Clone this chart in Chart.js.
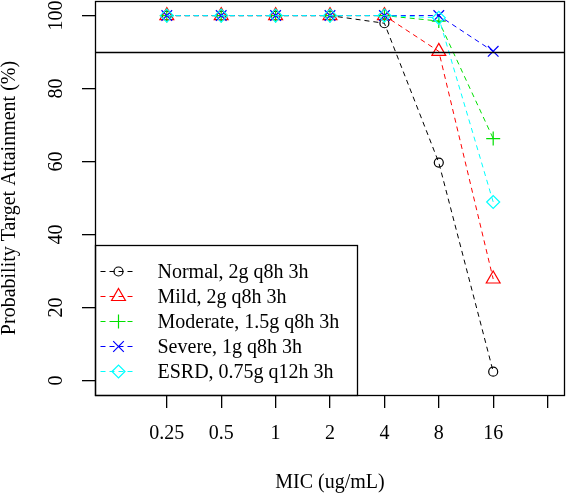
<!DOCTYPE html>
<html>
<head>
<meta charset="utf-8">
<script src="https://cdn.jsdelivr.net/npm/chart.js@4.4.0/dist/chart.umd.min.js"></script>
<style>
  html, body { margin: 0; padding: 0; background: #fff; }
</style>
</head>
<body>
<canvas id="myChart" width="566" height="496"></canvas>
<script>
// MIC categories (last tick is left blank, as in the R plot)
const micLabels = ['0.25', '0.5', '1', '2', '4', '8', '16', ''];
const yTicks = [0, 20, 40, 60, 80, 100];
const target = 90;

const seriesNames = ['Normal, 2g q8h 3h', 'Mild, 2g q8h 3h', 'Moderate, 1.5g q8h 3h', 'Severe, 1g q8h 3h', 'ESRD, 0.75g q12h 3h'];
const normal   = [100, 100, 100, 100, 97.9, 59.7, 2.4];
const mild     = [100, 100, 100, 100, 100, 90.2, 27.8];
const moderate = [100, 100, 100, 100, 100, 98.5, 66.3];
const severe   = [100, 100, 100, 100, 100, 100, 90.2];
const esrd     = [100, 100, 100, 100, 100, 99.4, 48.9];

const colors = ['#000000', '#ff0000', '#00e000', '#0000ff', '#00ffff'];
const styles = ['circle', 'triangle', 'cross', 'crossRot', 'rectRot'];
const radii  = [4.5, 8, 7, 7.5, 6.5];
const values = [normal, mild, moderate, severe, esrd];

const FONT = 'Liberation Serif';

const toPoints = arr => arr.map((v, i) => ({x: i + 1, y: v}));

const datasets = values.map((vals, i) => ({
    label: seriesNames[i],
    data: toPoints(vals),
    borderColor: colors[i],
    borderWidth: 1,
    borderDash: [5, 4],
    pointStyle: styles[i],
    pointRadius: radii[i],
    pointBorderWidth: 1.2,
    pointBorderColor: colors[i],
    pointBackgroundColor: 'rgba(0,0,0,0)',
    fill: false,
    clip: false,
    order: 5 - i  // later series drawn on top, like R
}));

// no extra room for the end tick labels
const noPad = scale => {
    scale.paddingLeft = 0;
    scale.paddingRight = 0;
    scale.paddingTop = 0;
    scale.paddingBottom = 0;
};

// box, reference line and the legend inside the plot
const rExtras = {
    id: 'rExtras',
    afterDatasetsDraw(chart) {
        const {ctx, chartArea: a, scales: {y}} = chart;
        const yy = Math.round(y.getPixelForValue(target)) + 0.5;
        ctx.save();
        ctx.strokeStyle = '#000';
        ctx.lineWidth = 1.3;
        ctx.beginPath();
        ctx.moveTo(a.left, yy);
        ctx.lineTo(a.right, yy);
        ctx.stroke();
        ctx.restore();
    },
    afterDraw(chart) {
        const {ctx, chartArea: a} = chart;
        const w = 262, h = 150;
        const left = Math.round(a.left) + 0.5;
        const top = Math.round(a.bottom - h) + 0.5;
        ctx.save();
        ctx.fillStyle = '#fff';
        ctx.fillRect(left, top, w, h);
        ctx.strokeStyle = '#000';
        ctx.lineWidth = 1.3;
        ctx.strokeRect(left, top, w, h);

        chart.data.datasets.forEach((ds, i) => {
            const ry = top + 26 + 25 * i;
            ctx.strokeStyle = ds.borderColor;
            ctx.lineWidth = 1;
            ctx.setLineDash([5, 4]);
            ctx.beginPath();
            ctx.moveTo(left + 5, ry);
            ctx.lineTo(left + 41, ry);
            ctx.stroke();
            ctx.setLineDash([]);
            ctx.fillStyle = 'rgba(0,0,0,0)';
            ctx.lineWidth = ds.pointBorderWidth;
            Chart.helpers.drawPoint(ctx, {
                pointStyle: ds.pointStyle,
                radius: ds.pointRadius,
                rotation: 0,
                borderWidth: ds.pointBorderWidth
            }, left + 23, ry);
            ctx.fillStyle = '#000';
            ctx.font = '20px "' + FONT + '"';
            ctx.textAlign = 'left';
            ctx.textBaseline = 'middle';
            ctx.fillText(ds.label, left + 62, ry + 1);
        });

        // plot box
        ctx.strokeStyle = '#000';
        ctx.lineWidth = 1.3;
        ctx.strokeRect(Math.round(a.left) + 0.5, Math.round(a.top) + 0.5,
            Math.round(a.right - a.left) - 1, Math.round(a.bottom - a.top));
        ctx.restore();
    }
};

const ctx = document.getElementById('myChart').getContext('2d');
const myChart = new Chart(ctx, {
    type: 'line',
    data: { datasets: datasets },
    plugins: [rExtras],
    options: {
        responsive: false,
        animation: false,
        devicePixelRatio: 1,
        layout: { autoPadding: false, padding: { left: 0, right: 1, top: 1, bottom: 0 } },
        plugins: {
            legend: { display: false },
            tooltip: { enabled: false }
        },
        scales: {
            x: {
                type: 'linear',
                min: -0.32,
                max: 8.32,
                afterBuildTicks: scale => { scale.ticks = micLabels.map((l, i) => ({value: i + 1})); },
                afterFit: scale => { scale.height = 101; noPad(scale); },
                grid: { display: true, drawOnChartArea: false, drawTicks: true, tickLength: 13, color: '#000', lineWidth: 1.3 },
                border: { display: false },
                ticks: {
                    autoSkip: false,
                    maxRotation: 0,
                    padding: 14,
                    color: '#000',
                    font: { family: FONT, size: 20 },
                    callback: v => micLabels[v - 1] || ''
                },
                title: {
                    display: true,
                    text: 'MIC (ug/mL)',
                    color: '#000',
                    font: { family: FONT, size: 20 },
                    padding: { top: 0, bottom: 1 }
                }
            },
            y: {
                min: -4,
                max: 104,
                afterBuildTicks: scale => { scale.ticks = yTicks.map(v => ({value: v})); },
                afterFit: scale => { scale.width = 95; noPad(scale); },
                grid: { display: true, drawOnChartArea: false, drawTicks: true, tickLength: 13, color: '#000', lineWidth: 1.3 },
                border: { display: false },
                ticks: {
                    autoSkip: false,
                    minRotation: 90,
                    maxRotation: 90,
                    crossAlign: 'center',
                    padding: 10,
                    color: '#000',
                    font: { family: FONT, size: 20 }
                },
                title: {
                    display: true,
                    text: 'Probability Target Attainment (%)',
                    color: '#000',
                    font: { family: FONT, size: 20, lineHeight: 1 },
                    padding: { top: 0, bottom: 0 }
                }
            }
        }
    }
});
</script>
</body>
</html>
